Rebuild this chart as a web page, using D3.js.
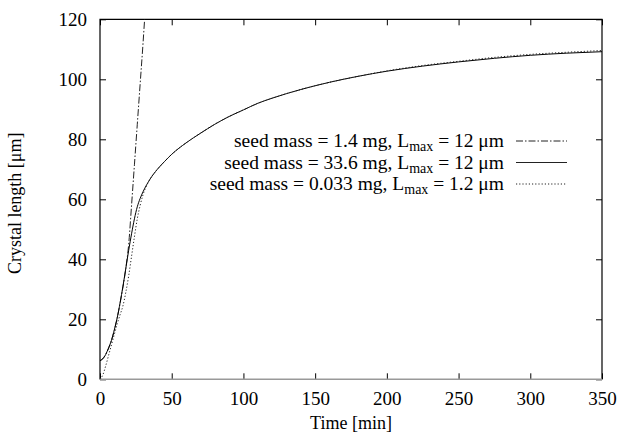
<!DOCTYPE html>
<html>
<head>
<meta charset="utf-8">
<script src="https://d3js.org/d3.v7.min.js"></script>
<style>
  body { margin: 0; background: #fff; }
  text { font-family: "Liberation Serif", "Times New Roman", serif; fill: #000; }
</style>
</head>
<body>
<script>
// values (time in min, crystal length in um)
var xTicks = [0, 50, 100, 150, 200, 250, 300, 350];
var yTicks = [0, 20, 40, 60, 80, 100, 120];

var timeDashDot = [0, 4, 8, 12, 15, 18, 20, 22, 24, 26, 28, 30, 31.1];
var lenDashDot  = [6.2, 8.3, 13, 20.5, 28, 37, 45, 58, 71.5, 85, 98.5, 112, 120];

var timeSolid = [0, 2, 4, 6, 8, 10, 12, 14, 16, 18, 20, 22, 24, 26, 28, 30, 35, 40, 45, 50, 60, 70, 80, 90, 100, 110, 120, 140, 160, 180, 200, 225, 250, 275, 300, 325, 350];
var lenSolid  = [6.2, 6.8, 8.3, 10.5, 13, 16.5, 20.5, 25.5, 31, 37, 43, 48.5, 53.5, 57.5, 60.3, 62.5, 66.8, 70, 72.6, 75, 78.8, 82, 85, 87.6, 89.8, 92, 93.7, 96.6, 99, 101, 102.7, 104.4, 105.8, 107, 108, 108.7, 109.2];

var timeDotted = [0, 2, 4, 6, 8, 10, 12, 14, 16, 18, 20, 22, 24, 26, 28, 30, 35, 40, 45, 50, 60, 70, 80, 90, 100, 110, 120, 140, 160, 180, 200, 225, 250, 275, 300, 325, 350];
var lenDotted  = [0, 1.5, 4.5, 8, 11.5, 15, 18.5, 21.5, 24.5, 29, 34.5, 41, 47.5, 53.5, 58, 61.5, 66.8, 70, 72.6, 75, 78.8, 82, 85, 87.6, 89.8, 92, 93.7, 96.6, 99, 101, 102.8, 104.6, 106, 107.3, 108.3, 109, 109.6];

var seriesNames = [
  ["seed mass = 1.4 mg, L", "max", " = 12 \u03bcm"],
  ["seed mass = 33.6 mg, L", "max", " = 12 \u03bcm"],
  ["seed mass = 0.033 mg, L", "max", " = 1.2 \u03bcm"]
];
var seriesDash = ["7,2,1.5,2", null, "1.2,2"];

var W = 621, H = 438;
var pL = 100, pR = 602, pT = 19.3, pB = 379.3;

var svg = d3.select("body").append("svg")
    .attr("width", W)
    .attr("height", H);

var x = d3.scaleLinear().domain([0, 350]).range([pL, pR]);
var y = d3.scaleLinear().domain([0, 120]).range([pB, pT]);

// axes, ticks point inwards
var xAxis = svg.append("g")
    .attr("transform", "translate(0," + pB + ")")
    .call(d3.axisBottom(x).tickValues(xTicks).tickSizeInner(-6).tickSizeOuter(0).tickPadding(12));
var yAxis = svg.append("g")
    .attr("transform", "translate(" + pL + ",0)")
    .call(d3.axisLeft(y).tickValues(yTicks).tickSizeInner(-6).tickSizeOuter(0).tickPadding(13));
var xTop = svg.append("g")
    .attr("transform", "translate(0," + pT + ")")
    .call(d3.axisTop(x).tickValues(xTicks).tickSizeInner(-6).tickSizeOuter(0).tickFormat(""));
var yRight = svg.append("g")
    .attr("transform", "translate(" + pR + ",0)")
    .call(d3.axisRight(y).tickValues(yTicks).tickSizeInner(-6).tickSizeOuter(0).tickFormat(""));

[xAxis, yAxis, xTop, yRight].forEach(function (g) {
  g.select(".domain").remove();
  g.selectAll("text").style("font-family", "'Liberation Serif', serif").style("font-size", "19px");
  g.selectAll("line").attr("stroke", "#000");
});

// frame
svg.append("path")
    .attr("d", "M" + pL + "," + pB + "V" + pT + "H" + pR + "V" + pB)
    .attr("fill", "none")
    .attr("stroke", "#000")
    .attr("stroke-width", 1.2);
svg.append("line")
    .attr("x1", pL).attr("x2", pR)
    .attr("y1", pB).attr("y2", pB)
    .attr("stroke", "#999")
    .attr("stroke-width", 1.5);

// curves
var line = d3.line()
    .x(function (d) { return x(d[0]); })
    .y(function (d) { return y(d[1]); })
    .curve(d3.curveMonotoneX);

var allSeries = [
  d3.zip(timeDashDot, lenDashDot),
  d3.zip(timeSolid, lenSolid),
  d3.zip(timeDotted, lenDotted)
];

allSeries.forEach(function (pts, i) {
  svg.append("path")
      .datum(pts)
      .attr("d", line)
      .attr("fill", "none")
      .attr("stroke", i == 1 ? "#000" : "#222")
      .attr("stroke-width", 1)
      .attr("stroke-dasharray", seriesDash[i]);
});

// legend
seriesNames.forEach(function (nm, i) {
  var base = 147 + i * 21.5;
  var t = svg.append("text")
      .attr("x", 504)
      .attr("y", base)
      .attr("text-anchor", "end")
      .style("font-size", "19.5px");
  t.append("tspan").text(nm[0]);
  t.append("tspan").attr("dy", 4).style("font-size", "14px").text(nm[1]);
  t.append("tspan").attr("dy", -4).text(nm[2]);
  svg.append("line")
      .attr("x1", 516).attr("x2", 567)
      .attr("y1", base - 6).attr("y2", base - 6)
      .attr("stroke", "#222")
      .attr("stroke-width", 1)
      .attr("stroke-dasharray", seriesDash[i]);
});

// axis titles
svg.append("text")
    .attr("x", (pL + pR) / 2)
    .attr("y", 429)
    .attr("text-anchor", "middle")
    .style("font-size", "18px")
    .text("Time [min]");
svg.append("text")
    .attr("transform", "translate(21," + ((pT + pB) / 2 + 4) + ") rotate(-90)")
    .attr("text-anchor", "middle")
    .style("font-size", "18px")
    .text("Crystal length [\u03bcm]");
</script>
</body>
</html>
